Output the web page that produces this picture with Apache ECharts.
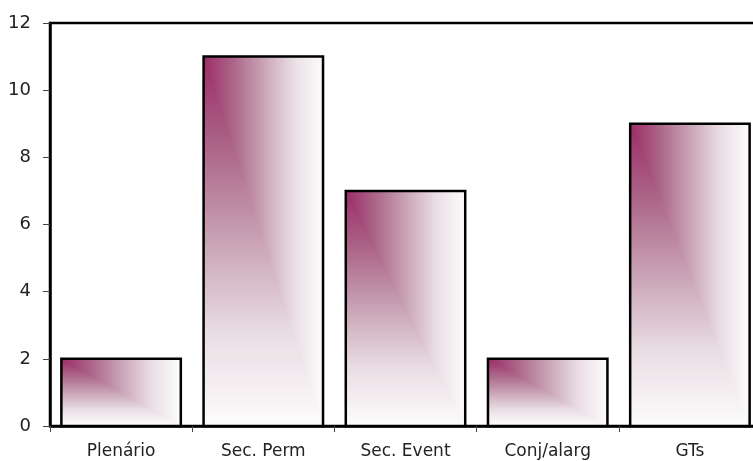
<!DOCTYPE html>
<html>
<head>
<meta charset="utf-8">
<script src="https://cdn.jsdelivr.net/npm/echarts@6/dist/echarts.min.js"></script>
<style>html,body{margin:0;padding:0;background:#fff;overflow:hidden;width:753px;height:461px;}#c{width:761px;height:461px;}</style>
</head>
<body>
<div id="c"></div>
<script>
const categories = ['Plenário', 'Sec. Perm', 'Sec. Event', 'Conj/alarg', 'GTs'];
const values = [2, 11, 7, 2, 9];
const yTicks = [0, 2, 4, 6, 8, 10, 12];

const PURPLE = '#9c2c68';
function stops(){
  return [
    {offset: 0, color: PURPLE},
    {offset: 0.25, color: '#ac6689'},
    {offset: 0.5, color: '#c9a3b5'},
    {offset: 0.75, color: '#e9dde3'},
    {offset: 1, color: '#fdfcfd'}
  ];
}
const chart = echarts.init(document.getElementById('c'), null, {renderer: 'canvas'});
chart.setOption({
  animation: false,
  backgroundColor: '#fff',
  grid: {left: 50, top: 23, right: 0, bottom: 35, show: true, borderColor: '#000', borderWidth: 2.5, backgroundColor: 'transparent'},
  xAxis: {
    type: 'category', data: categories, boundaryGap: true,
    axisLine: {lineStyle: {color: '#000', width: 2.5}},
    axisTick: {show: true, alignWithLabel: false, length: 6, lineStyle: {color: '#444', width: 1}},
    axisLabel: {color: '#222', fontFamily: 'DejaVu Sans', fontSize: 17, margin: 17}
  },
  yAxis: {
    type: 'value', min: 0, max: 12, interval: 2,
    splitLine: {show: false},
    axisLine: {show: true, lineStyle: {color: '#000', width: 2.5}},
    axisTick: {show: true, length: 7, lineStyle: {color: '#444', width: 1}},
    axisLabel: {color: '#222', fontFamily: 'DejaVu Sans', fontSize: 18, margin: 19}
  },
  series: [{
    type: 'custom',
    data: values.map((v, i) => [i, v]),
    encode: {x: 0, y: 1},
    renderItem: function (params, api) {
      const idx = api.value(0), val = api.value(1);
      const base = api.coord([idx, 0]);
      const top = api.coord([idx, val]);
      const bw = api.size([1, 0])[0] * 0.84;
      const x0 = base[0] - bw / 2, x1 = base[0] + bw / 2;
      const y0 = top[1], y1 = base[1];
      return {
        type: 'group',
        children: [
          {type: 'rect', shape: {x: x0, y: y0, width: bw, height: y1 - y0},
           style: {fill: new echarts.graphic.LinearGradient(0, 0, 0, 1, stops()), stroke: null}},
          {type: 'polygon', shape: {points: [[x0, y0], [x1, y0], [x1, y1]]},
           style: {fill: new echarts.graphic.LinearGradient(0, 0, 1, 0, stops()), stroke: null}},
          {type: 'rect', shape: {x: x0, y: y0, width: bw, height: y1 - y0},
           style: {fill: null, stroke: '#000', lineWidth: 2.5}}
        ]
      };
    }
  }]
});
</script>
</body>
</html>
